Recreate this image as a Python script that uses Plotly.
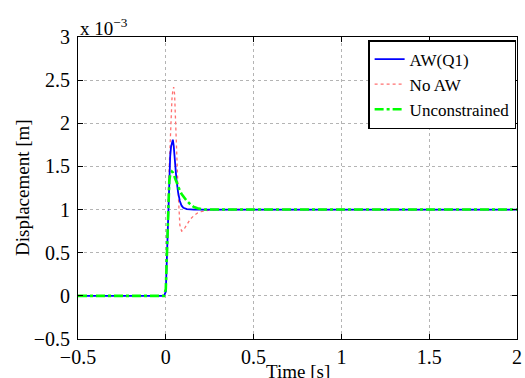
import plotly.graph_objects as go

# time [s]
time_s = [-0.5, -0.4, -0.3, -0.2, -0.1, -0.01, 0.0, 0.005, 0.01, 0.015, 0.02, 0.025,
          0.03, 0.035, 0.04, 0.045, 0.05, 0.055, 0.06, 0.07, 0.08, 0.09, 0.10, 0.12,
          0.14, 0.16, 0.18, 0.20, 0.22, 0.25, 0.28, 0.30, 0.4, 0.5, 0.6, 0.7, 0.8,
          0.9, 1.0, 1.1, 1.2, 1.3, 1.4, 1.5, 1.6, 1.7, 1.8, 1.9, 2.0]

# displacement [x 1e-3 m]
aw_q1 = [0, 0, 0, 0, 0, 0, 0.05, 0.35, 0.76, 1.2, 1.46, 1.62,
         1.73, 1.79, 1.81, 1.74, 1.6, 1.47, 1.36, 1.2, 1.1, 1.045, 1.02, 1.005,
         1.0, 1.0, 1.0, 1.0, 1.0, 1.0, 1.0, 1.0, 1.001, 0.999, 1.0, 1.001, 0.999,
         1.0, 1.001, 0.999, 1.0, 1.0, 1.001, 0.999, 1.0, 1.0, 0.999, 1.0, 1.0]

no_aw = [0, 0, 0, 0, 0, 0, 0.05, 0.35, 0.76, 1.2, 1.52, 1.82,
         2.08, 2.28, 2.38, 2.42, 2.34, 2.0, 1.72, 1.22, 0.82, 0.75, 0.76, 0.83,
         0.89, 0.93, 0.96, 0.975, 0.985, 0.994, 0.999, 1.0, 1.001, 0.999, 1.0, 1.001, 1.0,
         0.999, 1.0, 1.001, 1.0, 0.999, 1.0, 1.0, 1.001, 1.0, 0.999, 1.0, 1.0]

unconstrained = [0, 0, 0, 0, 0, 0, 0.08, 0.45, 0.9, 1.2, 1.34, 1.4,
                 1.43, 1.44, 1.43, 1.41, 1.38, 1.35, 1.32, 1.27, 1.22, 1.18, 1.15, 1.1,
                 1.06, 1.03, 1.015, 1.005, 1.0, 1.0, 1.0, 1.0, 1.001, 0.999, 1.0, 1.0, 1.001,
                 0.999, 1.0, 1.0, 1.001, 0.999, 1.0, 1.0, 0.999, 1.001, 1.0, 1.0, 1.0]

x_ticks = [-0.5, 0, 0.5, 1, 1.5, 2]
x_labels = ["\u22120.5", "0", "0.5", "1", "1.5", "2"]
y_ticks = [-0.5, 0, 0.5, 1, 1.5, 2, 2.5, 3]
y_labels = ["\u22120.5", "0", "0.5", "1", "1.5", "2", "2.5", "3"]

FONT = "Liberation Serif"

fig = go.Figure()
fig.add_trace(go.Scatter(x=time_s, y=no_aw, mode="lines", name="No AW", legendrank=2,
                         line=dict(color="#ff7070", width=1.3, dash="dot")))
fig.add_trace(go.Scatter(x=time_s, y=aw_q1, mode="lines", name="AW(Q1)", legendrank=1,
                         line=dict(color="#0000ff", width=1.8)))
fig.add_trace(go.Scatter(x=time_s, y=unconstrained, mode="lines", name="Unconstrained", legendrank=3,
                         line=dict(color="#00ff00", width=2.6, dash="dashdot")))

axis_common = dict(
    showline=True, linecolor="black", linewidth=1, mirror="ticks",
    ticks="inside", ticklen=5, tickcolor="black",
    showgrid=True, gridcolor="#b4b4b4", gridwidth=1, griddash="dot",
    zeroline=False, tickfont=dict(family=FONT, size=20, color="black"),
    ticklabeloverflow="allow",
)

fig.update_xaxes(range=[-0.5, 2], tickvals=x_ticks, ticktext=x_labels, **axis_common)
fig.update_yaxes(range=[-0.5, 3], tickvals=y_ticks, ticktext=y_labels, ticklabelstandoff=3, **axis_common)

fig.update_layout(
    width=525, height=378,
    margin=dict(l=78, r=3, t=37, b=39),
    plot_bgcolor="white", paper_bgcolor="white",
    font=dict(family=FONT, size=19, color="black"),
    legend=dict(
        x=0.998, y=0.99, xanchor="right", yanchor="top",
        bordercolor="black", borderwidth=1.5, bgcolor="white",
        font=dict(family=FONT, size=17, color="black"),
        tracegroupgap=0, itemwidth=30,
    ),
    annotations=[
        dict(text="x 10<sup>\u22123</sup>", xref="paper", yref="paper", x=0, y=1,
             xanchor="left", yanchor="bottom", showarrow=False, yshift=-4,
             font=dict(family=FONT, size=19)),
        dict(text="Time [s]", xref="paper", yref="paper", x=0.5, y=0,
             xanchor="center", yanchor="middle", showarrow=False, yshift=-32,
             font=dict(family=FONT, size=19)),
        dict(text="Displacement [m]", xref="paper", yref="paper", x=0, y=0.5,
             xanchor="center", yanchor="middle", showarrow=False, xshift=-56,
             textangle=-90, font=dict(family=FONT, size=19)),
    ],
    showlegend=True,
)

fig.write_html("out.html", config={"displayModeBar": False},
               post_script="document.body.style.margin='0';document.body.style.padding='0';")
